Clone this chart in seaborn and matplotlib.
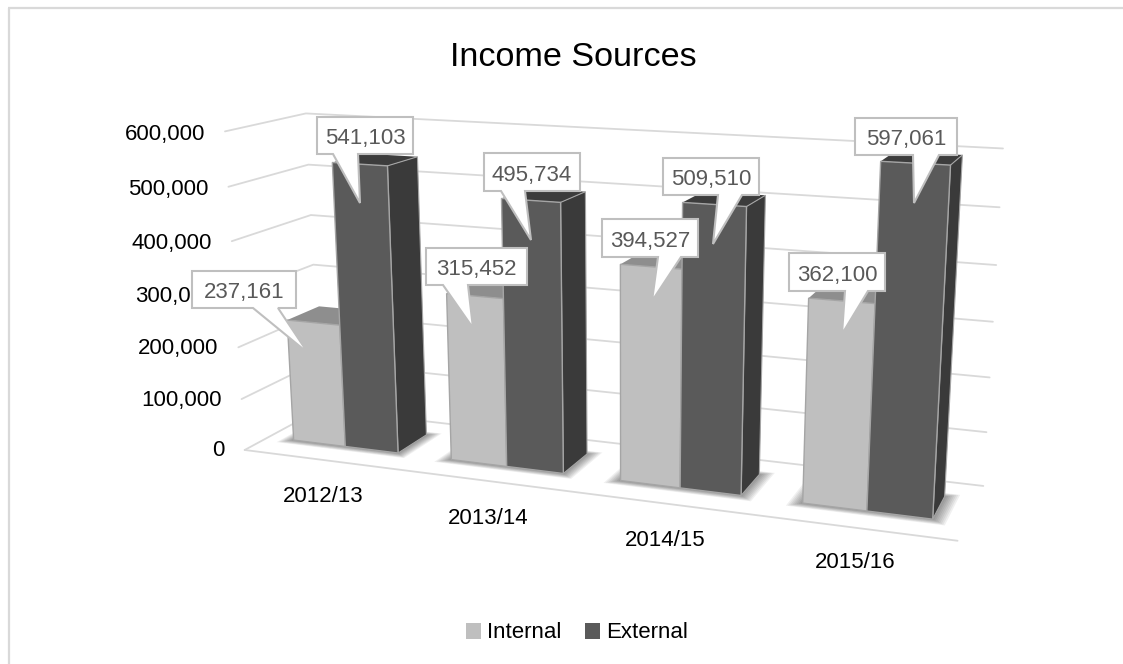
import numpy as np
import pandas as pd
import matplotlib
matplotlib.use("Agg")
import matplotlib.pyplot as plt
from matplotlib.patches import Polygon, Rectangle
from matplotlib.transforms import Transform
import seaborn as sns

# Chart data
years = ["2012/13", "2013/14", "2014/15", "2015/16"]
internal = [237161, 315452, 394527, 362100]
external = [541103, 495734, 509510, 597061]
axis_ticks = [0, 100000, 200000, 300000, 400000, 500000, 600000]

# Pixel canvas
W, H = 1123, 664
LEFT_U, RIGHT_U = -0.5, 3.5
BAR_FRONT, BAR_BACK = 0.30, 0.72
GROUP_WIDTH = 0.67

# Reference points of the oblique view: (category, depth, value/1e5) -> pixel
frame_points = [
    ((-0.5, 0, 0), (245, 450)), ((3.5, 0, 0), (958, 542)),
    ((-0.5, 1, 0), (321, 412)), ((3.5, 1, 0), (983, 485)),
    ((-0.5, 0, 6), (225, 132)), ((-0.5, 1, 6), (306, 113)),
    ((3.5, 1, 6), (1003, 149)), ((-0.5, 0, 3), (235, 295)),
    ((-0.5, 1, 3), (313, 263)), ((3.5, 1, 3), (993, 322)),
    ((0, BAR_FRONT, 0), (345, 445)), ((1, BAR_FRONT, 0), (506, 466)),
    ((2, BAR_FRONT, 0), (680, 487)), ((3, BAR_FRONT, 0), (867, 511)),
]


def fit_camera(points):
    rows = []
    for (u, d, v), (px, py) in points:
        px, py = px / 1000, py / 1000
        rows.append([u, d, v, 1, 0, 0, 0, 0, -px * u, -px * d, -px * v, -px])
        rows.append([0, 0, 0, 0, u, d, v, 1, -py * u, -py * d, -py * v, -py])
    _, _, vt = np.linalg.svd(np.array(rows, float))
    return vt[-1].reshape(3, 4)


CAMERA = fit_camera(frame_points)


def project(u, d, value):
    """Map arrays of category position, depth and value to canvas pixels."""
    pts = np.column_stack([u, d, np.asarray(value, float) / 1e5, np.ones(len(u))])
    q = pts @ CAMERA.T
    return 1000 * q[:, :2] / q[:, 2:3]


def corner(u, d, value):
    return project(np.array([u], float), np.array([d], float), np.array([value], float))[0]


class FrontPlane(Transform):
    """Places (category, value) data on the front plane of the bars."""
    input_dims = 2
    output_dims = 2
    is_separable = False
    has_inverse = False

    def __init__(self, plane_depth):
        super().__init__()
        self.plane_depth = plane_depth

    def transform_non_affine(self, values):
        values = np.asarray(values, float)
        return project(values[:, 0], np.full(len(values), self.plane_depth), values[:, 1])


sns.set_theme(style="white")
plt.rcParams["font.family"] = ["Liberation Sans", "DejaVu Sans"]
TEXT = "#000000"
GRID = "#D9D9D9"

fig = plt.figure(figsize=(W / 100, H / 100), dpi=100, facecolor="white")
ax = fig.add_axes([0, 0, 1, 1])

table = pd.DataFrame({
    "Year": years * 2,
    "Source": ["Internal"] * 4 + ["External"] * 4,
    "Income": internal + external,
})
palette = {"Internal": "#BFBFBF", "External": "#5A5A5A"}
sns.barplot(data=table, x="Year", y="Income", hue="Source", palette=palette,
            width=GROUP_WIDTH, gap=0, dodge=True, errorbar=None, saturation=1,
            edgecolor="#A5A5A5", linewidth=1.0, ax=ax, zorder=4)

ax.set_xlim(0, W)
ax.set_ylim(H, 0)
ax.set_xlabel("")
ax.set_ylabel("")

# Outer chart frame: top and left edges only
ax.plot([9, 9], [H, 8], color=GRID, lw=1.6, zorder=0, solid_capstyle="butt")
ax.plot([8, W], [8, 8], color=GRID, lw=1.6, zorder=0, solid_capstyle="butt")

# Gridlines along the side wall and the back wall, plus the floor's front edge
for tick in axis_ticks:
    a = corner(LEFT_U, 0, tick)
    b = corner(LEFT_U, 1, tick)
    c = corner(RIGHT_U, 1, tick)
    ax.plot([a[0], b[0], c[0]], [a[1], b[1], c[1]], color=GRID, lw=1.3, zorder=1,
            solid_joinstyle="miter")
    ax.text(a[0] - 20, a[1] + 1 + 2 * tick / 600000, f"{tick:,}", ha="right", va="center",
            fontsize=16, color=TEXT, zorder=2)
f0 = corner(LEFT_U, 0, 0)
f1 = corner(RIGHT_U, 0, 0)
ax.plot([f0[0], f1[0]], [f0[1], f1[1]], color=GRID, lw=1.3, zorder=1)

bars = [p for p in ax.patches if isinstance(p, Rectangle) and p.get_height() > 0][:8]
front = FrontPlane(BAR_FRONT) + ax.transData
bar_info = []
for patch in bars:
    patch.set_transform(front)
    patch.set_clip_on(False)
    bar_info.append((patch.get_x(), patch.get_width(), patch.get_height()))

# Soft contact shadow on the floor, built up from stacked translucent outlines
for i in range(len(years)):
    left = i - GROUP_WIDTH / 2
    right = i + GROUP_WIDTH / 2
    for k in range(1, 9):
        mu, md_front, md_back = 0.009 * k, 0.01 * k, 0.008 * k
        quad = [corner(left - mu, BAR_FRONT - md_front, 0), corner(right + mu, BAR_FRONT - md_front, 0),
                corner(right + mu, BAR_BACK + md_back, 0), corner(left - mu, BAR_BACK + md_back, 0)]
        ax.add_patch(Polygon(quad, closed=True, facecolor="black", edgecolor="none",
                             alpha=0.06, zorder=2))

# Tops and sides of each bar, taken from the bars the barplot created
shades = [{"top": "#8E8E8E", "side": "#8E8E8E"}, {"top": "#3C3C3C", "side": "#3A3A3A"}]
for n, (x, w, h) in enumerate(bar_info):
    shade = shades[0] if n < 4 else shades[1]
    top = [corner(x, BAR_FRONT, h), corner(x + w, BAR_FRONT, h),
           corner(x + w, BAR_BACK, h), corner(x, BAR_BACK, h)]
    ax.add_patch(Polygon(top, closed=True, facecolor=shade["top"], edgecolor="none", zorder=3))
    side = [corner(x + w, BAR_FRONT, 0), corner(x + w, BAR_FRONT, h),
            corner(x + w, BAR_BACK, h), corner(x + w, BAR_BACK, 0)]
    ax.add_patch(Polygon(side, closed=True, facecolor=shade["side"], edgecolor="#A5A5A5",
                         lw=0.8, zorder=3.5 if n < 4 else 4.5))

# Keep the dark bars in front of the light bars' sides
for n, patch in enumerate(bars):
    patch.set_zorder(4 if n < 4 else 5)

# Category labels under the floor
label_centres = [(323, 497), (488, 518), (665, 540), (855, 562)]
for name, (lx, ly) in zip(years, label_centres):
    ax.text(lx, ly, name, ha="center", va="center", fontsize=16, color=TEXT, zorder=2)

# Callout boxes: left, top, right, bottom, tail base left, tail base right, tail tip x, y
callouts = [
    (192, 271, 296, 308, 253, 278, 308, 353),
    (426, 248, 527, 285, 443, 468, 473, 328),
    (602, 219, 698, 257, 658, 681, 652, 301),
    (789, 253, 885, 291, 845, 868, 842, 334),
    (317, 117, 413, 154, 333, 358, 360, 203),
    (484, 153, 580, 191, 501, 525, 531, 240),
    (663, 158, 759, 195, 718, 742, 713, 244),
    (855, 118, 957, 155, 913, 939, 914, 203),
]
for value, (l, t, r, b, t0, t1, tx, ty) in zip(internal + external, callouts):
    outline = [(l, t), (r, t), (r, b), (t1, b), (tx, ty), (t0, b), (l, b)]
    ax.add_patch(Polygon(outline, closed=True, facecolor="white", edgecolor="#BFBFBF",
                         lw=1.5, zorder=8, joinstyle="miter"))
    ax.text((l + r) / 2, (t + b) / 2 + 3, f"{value:,}", ha="center", va="center", fontsize=16,
            color="#595959", zorder=9)

ax.text(573, 58, "Income Sources", ha="center", va="center", fontsize=24.6, color=TEXT)

sns.move_legend(ax, loc="center", bbox_to_anchor=(577 / W, 1 - 633 / H), ncol=2, title=None,
                frameon=False, fontsize=16, handlelength=0.7, handleheight=0.7,
                handletextpad=0.27, columnspacing=1.05, bbox_transform=fig.transFigure)
for handle in ax.get_legend().get_patches():
    handle.set_edgecolor("none")
for label in ax.get_legend().get_texts():
    label.set_color(TEXT)

ax.set_axis_off()
fig.savefig("out.png", dpi=100, facecolor="white")
